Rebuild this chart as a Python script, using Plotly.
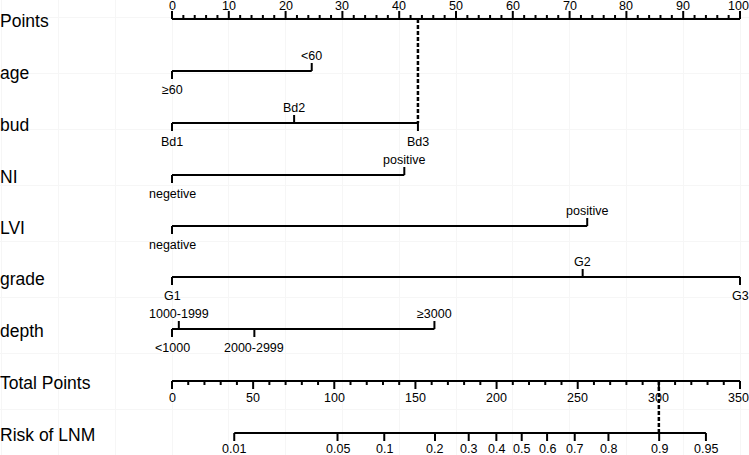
import numpy as np
import plotly.graph_objects as go

# ---------------- data ----------------
points_ticks = list(range(0, 101, 10))
points_minor = list(range(0, 101, 2))

total_ticks = list(range(0, 351, 50))
total_minor = list(range(0, 351, 10))
max_total = 350

risk_ticks = [0.01, 0.05, 0.1, 0.2, 0.3, 0.4, 0.5, 0.6, 0.7, 0.8, 0.9, 0.95]
risk_labels = ["0.01", "0.05", "0.1", "0.2", "0.3", "0.4", "0.5", "0.6", "0.7", "0.8", "0.9", "0.95"]
risk_intercept = -5.59
risk_slope = 0.02594

age_levels = ["≥60", "<60"]
age_points = [0, 24.6]
age_side = ["below", "above"]

bud_levels = ["Bd1", "Bd2", "Bd3"]
bud_points = [0, 21.5, 43.3]
bud_side = ["below", "above", "below"]

ni_levels = ["negetive", "positive"]
ni_points = [0, 40.9]
ni_side = ["below", "above"]

lvi_levels = ["negative", "positive"]
lvi_points = [0, 73.1]
lvi_side = ["below", "above"]

grade_levels = ["G1", "G2", "G3"]
grade_points = [0, 72.3, 100]
grade_side = ["below", "above", "below"]

depth_levels = ["<1000", "1000-1999", "2000-2999", "≥3000"]
depth_points = [0, 1.2, 14.5, 46.2]
depth_side = ["below", "above", "below", "above"]

example_points = 43.3
example_total = 300

# ---------------- layout helpers ----------------
row_y = {"Points": 19, "age": 71, "bud": 123, "NI": 175, "LVI": 226,
         "grade": 277, "depth": 329, "Total Points": 381, "Risk of LNM": 433}
FONT = "Liberation Sans, Arial, sans-serif"
LW = 2

fig = go.Figure()
annotations = []


def seg_trace(xs, ys, dash=None, width=LW):
    fig.add_trace(go.Scatter(x=xs, y=ys, mode="lines",
                             line=dict(color="black", width=width, dash=dash),
                             hoverinfo="skip", showlegend=False))


def label(text, x, y, size=12.5, xanchor="center", xref="x", xshift=0):
    annotations.append(dict(text=text, x=x, y=y, xref=xref, yref="y",
                            xanchor=xanchor, yanchor="middle", showarrow=False,
                            xshift=xshift,
                            font=dict(family=FONT, size=size, color="black")))


def tp_to_pts(tp):
    return np.asarray(tp, dtype=float) * 100.0 / max_total


# Points axis
y0 = row_y["Points"]
seg_trace([0, 100], [y0, y0])
xs, ys = [], []
for v in points_minor:
    L = 8 if v % 10 == 0 else 4
    xs += [v, v, None]
    ys += [y0, y0 - L, None]
seg_trace(xs, ys, width=2)
for v in points_ticks:
    label(str(v), v, y0 - 13.5, xshift=(-2 if v == points_ticks[-1] else 0))

# Variable rows
rows = [("age", age_levels, age_points, age_side),
        ("bud", bud_levels, bud_points, bud_side),
        ("NI", ni_levels, ni_points, ni_side),
        ("LVI", lvi_levels, lvi_points, lvi_side),
        ("grade", grade_levels, grade_points, grade_side),
        ("depth", depth_levels, depth_points, depth_side)]
for name, levels, pts, sides in rows:
    y = row_y[name]
    seg_trace([min(pts), max(pts)], [y, y])
    xs, ys = [], []
    for lv, p, s in zip(levels, pts, sides):
        if s == "above":
            xs += [p, p, None]; ys += [y, y - 8, None]
            label(lv, p, y - 15)
        else:
            xs += [p, p, None]; ys += [y, y + 8, None]
            label(lv, p, y + 18.5)
    seg_trace(xs, ys)

# Total points axis
yt = row_y["Total Points"]
seg_trace([0, 100], [yt, yt])
xs, ys = [], []
for v in total_minor:
    L = 8 if v % 50 == 0 else 4
    p = float(tp_to_pts(v))
    xs += [p, p, None]
    ys += [yt, yt + L, None]
seg_trace(xs, ys, width=2)
for v in total_ticks:
    label(str(v), float(tp_to_pts(v)), yt + 17, xshift=(-2 if v == total_ticks[-1] else 0))

# Risk axis
yr = row_y["Risk of LNM"]
risk_arr = np.array(risk_ticks)
risk_tp = (np.log(risk_arr / (1 - risk_arr)) - risk_intercept) / risk_slope
risk_x = tp_to_pts(risk_tp)
seg_trace([risk_x.min(), risk_x.max()], [yr, yr])
xs, ys = [], []
for p, t in zip(risk_x, risk_labels):
    xs += [p, p, None]; ys += [yr, yr + 8, None]
    label(t, float(p), yr + 16)
seg_trace(xs, ys)

# Example dashed lines
seg_trace([example_points, example_points], [row_y["Points"], row_y["bud"]], dash="4px,2px", width=2.5)
ex_t = float(tp_to_pts(example_total))
seg_trace([ex_t, ex_t], [row_y["Total Points"], row_y["Risk of LNM"]], dash="4px,2px", width=2.5)

# Row titles
for name, y in row_y.items():
    label(name, 0, y + 1.5, size=17.5, xanchor="left", xref="paper", xshift=-2)

px_per_pt = 5.68
x_left = 172
fig.update_layout(
    width=749, height=455, autosize=False,
    margin=dict(l=0, r=0, t=0, b=0),
    paper_bgcolor="white", plot_bgcolor="white",
    annotations=annotations,
    xaxis=dict(range=[-x_left / px_per_pt, (749 - x_left) / px_per_pt],
               showgrid=True, gridcolor="#f6f6f6", gridwidth=1, tick0=0, dtick=10,
               zeroline=False, showticklabels=False, ticks="", showline=False, fixedrange=True),
    yaxis=dict(range=[455, 0], showgrid=True, gridcolor="#f6f6f6", gridwidth=1,
               tick0=17, dtick=56, zeroline=False, showticklabels=False, ticks="",
               showline=False, fixedrange=True),
)

fig.write_html("out.html", config={"displayModeBar": False},
               post_script="document.body.style.margin='0';document.body.style.overflow='hidden';")
